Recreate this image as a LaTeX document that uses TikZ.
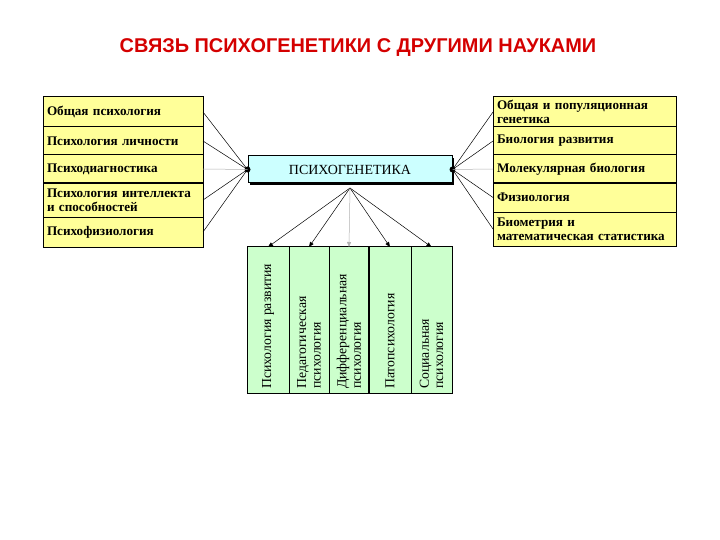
\documentclass[tikz,border=0pt]{standalone}
\usepackage{fontspec}
\setmainfont{Liberation Serif}
\newfontfamily\titlefont{Liberation Sans}
\usetikzlibrary{arrows.meta}

\definecolor{boxyellow}{HTML}{FFFF99}
\definecolor{boxcyan}{HTML}{CCFFFF}
\definecolor{boxgreen}{HTML}{CCFFCC}
\definecolor{titlered}{HTML}{D40000}

\tikzset{
  sci/.style={draw,line width=1bp,fill=boxyellow,anchor=north west,outer sep=0pt,
    text width=#1,inner xsep=4bp,inner ysep=1bp,align=left,
    font=\fontsize{13.2}{14.5}\selectfont\bfseries},
  branch/.style={draw,line width=1bp,fill=boxgreen,anchor=north west,outer sep=0pt,
    minimum height=146bp},
  branchtext/.style={rotate=90,align=left,inner sep=1bp,
    font=\fontsize{13.8}{14.5}\selectfont},
  link/.style={black,line width=0.5bp},
  tip/.style={-{Triangle[length=5bp,width=4bp]}}
}

\begin{document}
\begin{tikzpicture}[x=1bp,y=-1bp]
  \useasboundingbox (0,0) rectangle (720,540);

  % Title
  \node[font=\titlefont\bfseries\fontsize{20}{22}\selectfont,text=titlered]
    (title) at (358,48) {СВЯЗЬ ПСИХОГЕНЕТИКИ С ДРУГИМИ НАУКАМИ};

  % Central box
  \fill[black] (250,158) rectangle (454,185);
  \node[draw,line width=1bp,fill=boxcyan,minimum width=204bp,minimum height=27bp,
    font=\fontsize{14}{16}\selectfont] (psy) at (350,169.5) {ПСИХОГЕНЕТИКА};
  \node[circle,fill=black,inner sep=0pt,minimum size=6bp] (dotL) at (psy.west) {};
  \node[circle,fill=black,inner sep=0pt,minimum size=6bp] (dotR) at (psy.east) {};
  \coordinate (hub) at (350,188);

  % Left column (psychology)
  \node[sci=152bp,minimum height=30bp] (l1) at (43,97) {Общая психология};
  \node[sci=152bp,minimum height=28bp] (l2) at (l1.south west) {Психология личности};
  \node[sci=152bp,minimum height=28bp] (l3) at (l2.south west) {Психодиагностика};
  \node[sci=152bp,minimum height=34bp] (l4) at (l3.south west)
    {Психология интеллекта\\и способностей};
  \node[sci=152bp,minimum height=30bp] (l5) at (l4.south west) {Психофизиология};
  \draw[line width=2bp] (l4.north west) -- (l4.north east);

  % Right column (biology)
  \node[sci=175bp,minimum height=30bp] (r1) at (493,97)
    {Общая и популяционная\\генетика};
  \node[sci=175bp,minimum height=28bp] (r2) at (r1.south west) {Биология развития};
  \node[sci=175bp,minimum height=28bp] (r3) at (r2.south west) {Молекулярная биология};
  \node[sci=175bp,minimum height=29bp] (r4) at (r3.south west) {Физиология};
  \node[sci=175bp,minimum height=34bp] (r5) at (r4.south west)
    {Биометрия и\\математическая статистика};
  \draw[line width=2bp] (r4.north west) -- (r4.north east);

  % Links to the central box
  \foreach \n in {1,2,4,5}{
    \draw[link] (l\n.east) -- (dotL.center);
    \draw[link] (r\n.west) -- (dotR.center);
  }
  \draw[link,gray!60] (l3.east) -- (dotL.center);
  \draw[link,gray!60] (r3.west) -- (dotR.center);

  % Bottom block (branches of psychology)
  \node[branch,minimum width=42bp] (g1) at (247,247) {};
  \node[branch,minimum width=40bp] (g2) at (g1.north east) {};
  \node[branch,minimum width=40bp] (g3) at (g2.north east) {};
  \node[branch,minimum width=42bp] (g4) at (g3.north east) {};
  \node[branch,minimum width=41bp] (g5) at (g4.north east) {};
  \draw[line width=2bp] (g4.north west) -- (g4.south west);

  \node[branchtext,anchor=west] (t1) at (g1.center |- 0,390) {Психология развития};
  \node[branchtext,anchor=west] (t2) at (g2.center |- 0,390) {Педагогическая\\психология};
  \node[branchtext,anchor=west] (t3) at (g3.center |- 0,390) {Дифференциальная\\психология};
  \node[branchtext,anchor=west] (t4) at (g4.center |- 0,390) {Патопсихология};
  \node[branchtext,anchor=west] (t5) at (g5.center |- 0,390) {Социальная\\психология};

  % Arrows from the central box
  \foreach \n in {1,2,4,5}
    \draw[link,tip] (hub) -- (g\n.north);
  \draw[link,tip,gray!60] (hub) -- (g3.north);
\end{tikzpicture}
\end{document}
